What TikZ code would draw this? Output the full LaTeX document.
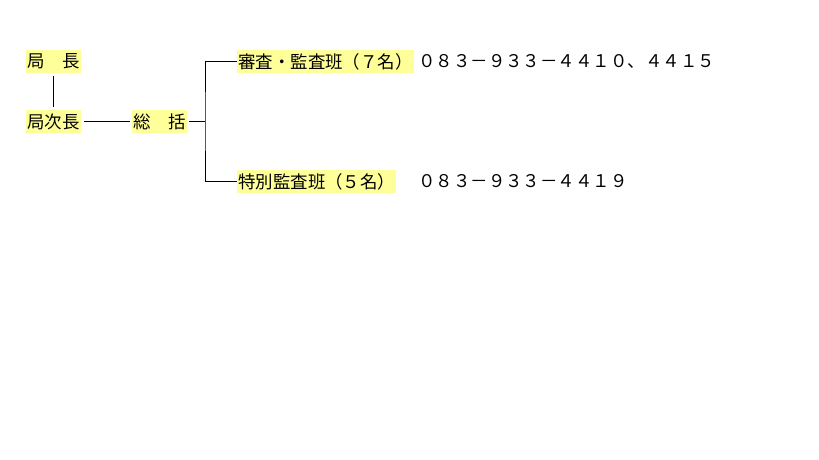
\documentclass[tikz,border=0pt]{standalone}
\usepackage{fontspec}
\usepackage{xcolor}
\usepackage{tikz}
\newfontfamily\jpfont{Noto Sans CJK JP}
\definecolor{postyellow}{RGB}{255,255,153}

\begin{document}
\begin{tikzpicture}[x=0.03cm,y=-0.03cm,
  post/.style={fill=postyellow,anchor=west,inner xsep=0.03cm,inner ysep=0pt,
    minimum height=0.69cm,font=\jpfont\fontsize{14.9pt}{16pt}\selectfont},
  phone/.style={anchor=west,inner sep=0pt,font=\jpfont\fontsize{14.9pt}{16pt}\selectfont},
  link/.style={black,line width=0.85pt}]
  \useasboundingbox[fill=white] (0,0) rectangle (819,460);
  \node[post] (kyokucho) at (26,61.5) {局　長};
  \node[post] (jicho) at (26,121.5) {局次長};
  \node[post] (soukatsu) at (132,121.5) {総　括};
  \node[post] (shinsa) at (237,61.5) {審査・監査班（７名）};
  \node[post] (tokubetsu) at (237,181.5) {特別監査班（５名）};
  \node[phone] (telshinsa) at (418,61.5) {０８３－９３３－４４１０、４４１５};
  \node[phone] (teltokubetsu) at (418,181.5) {０８３－９３３－４４１９};
  \coordinate (branch) at (205,121.5);
  \draw[link,shorten <=2pt,shorten >=2pt] (kyokucho.south) -- (jicho.north);
  \draw[link,shorten <=3pt,shorten >=2pt] (jicho.east) -- (soukatsu.west);
  \draw[link,shorten <=2pt] (soukatsu.east) -- (branch);
  \draw[link] (shinsa.west) -| (branch) |- (tokubetsu.west);
\end{tikzpicture}
\end{document}
